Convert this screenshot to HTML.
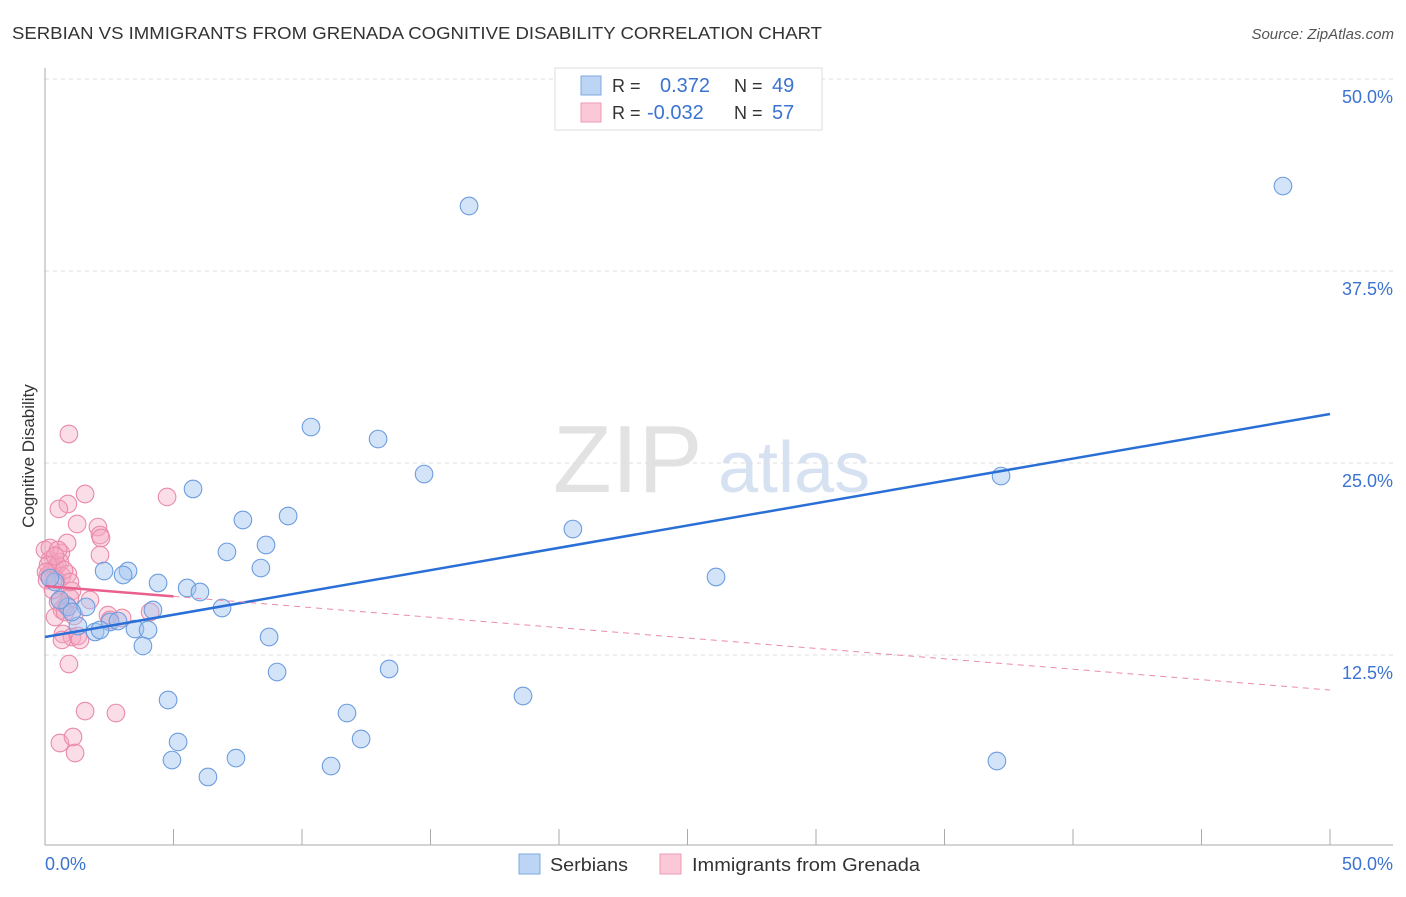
<!DOCTYPE html>
<html><head><meta charset="utf-8"><style>
body{margin:0;background:#fff;font-family:"Liberation Sans",sans-serif}
svg text{font-family:"Liberation Sans",sans-serif}
</style></head><body>
<svg id="chart" width="1406" height="892" xmlns="http://www.w3.org/2000/svg">
<text x="12" y="39" font-size="17.5" fill="#333" textLength="810" lengthAdjust="spacingAndGlyphs">SERBIAN VS IMMIGRANTS FROM GRENADA COGNITIVE DISABILITY CORRELATION CHART</text>
<text x="1394" y="39" font-size="15" fill="#555" text-anchor="end" font-style="italic">Source: ZipAtlas.com</text>
<g>
<text x="553" y="492" font-size="96" fill="#e2e2e2" font-family="Liberation Serif,serif">ZIP</text>
<text x="718" y="492" font-size="72" fill="#d6e2f2">atlas</text>
</g>
<g id="grid"></g>
<g id="axes"></g>
<g id="marks"></g>
<text transform="translate(34,456) rotate(-90)" font-size="17" fill="#333" text-anchor="middle">Cognitive Disability</text>
<g>
<rect x="555" y="68" width="267" height="62" fill="#fff" stroke="#ddd"/>
<rect x="581" y="76" width="20" height="19" fill="#bcd5f5" stroke="#7fa8e0"/>
<rect x="581" y="103" width="20" height="19" fill="#fbc8d8" stroke="#ec9ab6"/>
<text x="612" y="92" font-size="18" fill="#333">R = </text>
<text x="660" y="92" font-size="20" fill="#3b73d0">0.372</text>
<text x="734" y="92" font-size="18" fill="#333">N = </text>
<text x="772" y="92" font-size="20" fill="#3b73d0">49</text>
<text x="612" y="119" font-size="18" fill="#333">R = </text>
<text x="647" y="119" font-size="20" fill="#3b73d0">-0.032</text>
<text x="734" y="119" font-size="18" fill="#333">N = </text>
<text x="772" y="119" font-size="20" fill="#3b73d0">57</text>
</g>
<g>
<rect x="519" y="854" width="21" height="20" fill="#bcd5f5" stroke="#7fa8e0"/>
<text x="550" y="871" font-size="18" fill="#333" textLength="78" lengthAdjust="spacingAndGlyphs">Serbians</text>
<rect x="660" y="854" width="21" height="20" fill="#fbc8d8" stroke="#ec9ab6"/>
<text x="692" y="871" font-size="18" fill="#333" textLength="228" lengthAdjust="spacingAndGlyphs">Immigrants from Grenada</text>
</g>
</svg>
<script>
const blueX=[48.17,16.50,10.35,12.96,14.75,37.20,5.76,20.54,7.70,9.46,8.60,7.08,2.30,3.23,3.04,8.40,4.40,5.53,6.03,26.11,0.39,1.60,0.89,4.20,6.89,2.53,2.84,1.28,1.95,3.50,4.01,8.72,3.81,9.03,13.39,4.79,18.60,11.75,12.30,5.18,4.94,7.43,6.34,11.13,37.04,0.19,1.05,2.14,0.58];
const blueY=[43.03,41.73,27.34,26.56,24.28,24.15,23.31,20.70,21.29,21.55,19.66,19.21,17.97,17.97,17.71,18.16,17.19,16.86,16.60,17.58,17.25,15.63,15.63,15.43,15.56,14.65,14.71,14.39,14.00,14.19,14.13,13.67,13.09,11.39,11.59,9.57,9.83,8.72,7.03,6.84,5.66,5.79,4.56,5.27,5.60,17.51,15.30,14.13,16.08];
const pinkX=[0.93,1.56,0.89,0.54,4.75,1.25,2.06,2.14,2.18,0.62,0.86,0.19,0.39,0.12,0.27,0.47,0.58,0.66,0,0.89,2.14,1.05,0.58,0.82,0.66,0.51,0.97,1.13,0.39,2.45,3.00,4.09,2.53,0.70,1.05,1.28,0.66,0.93,1.56,2.76,0.58,1.09,1.17,0.12,0.04,0.31,0.78,0.43,0.74,0.97,0.19,0.51,1.36,1.75,0.39,0.08];
const pinkY=[26.89,22.98,22.33,22.01,22.79,21.03,20.83,20.31,20.12,19.14,19.79,18.68,18.16,17.71,18.03,18.36,18.55,17.64,19.34,17.77,19.01,16.67,16.08,15.76,15.43,15.95,16.21,15.04,14.97,15.10,14.91,15.30,14.78,13.87,13.67,13.74,13.48,11.91,8.85,8.72,6.77,7.16,6.12,18.36,17.90,16.73,15.30,17.38,18.03,17.25,19.47,19.34,13.48,16.08,18.94,17.38];
const blueTrend=[13.67,28.19];
const pinkTrend=[16.99,10.22];
const yTicks=[12.5,25,37.5,50];
const yTickLabels=["12.5%","25.0%","37.5%","50.0%"];
const NS="http://www.w3.org/2000/svg";
const sx=v=>45+v*25.7, sy=v=>847-v*15.36;
function mk(tag,attrs,parent){const e=document.createElementNS(NS,tag);for(const k in attrs)e.setAttribute(k,attrs[k]);parent.appendChild(e);return e;}
const grid=document.getElementById('grid'),axes=document.getElementById('axes'),marks=document.getElementById('marks');
yTicks.forEach((t,i)=>{
 const l=mk('line',{x1:45,x2:1393,y1:sy(t),y2:sy(t),stroke:'#ddd','stroke-dasharray':'4,4'},grid);
 
 
 const tx=mk('text',{x:1393,y:sy(t)+24,'font-size':18,fill:'#3b73d0','text-anchor':'end'},axes);
 tx.textContent=yTickLabels[i];
 
 
});
mk('line',{x1:45,x2:45,y1:68,y2:845,stroke:'#aaa'},axes);
mk('line',{x1:45,x2:1393,y1:845,y2:845,stroke:'#aaa'},axes);
for(let i=1;i<=10;i++){mk('line',{x1:sx(i*5),x2:sx(i*5),y1:829,y2:845,stroke:'#aaa'},axes);}
const xl=mk('text',{x:45,y:870,'font-size':18,fill:'#3b73d0'},axes);xl.textContent='0.0%';


const xr=mk('text',{x:1393,y:870,'font-size':18,fill:'#3b73d0','text-anchor':'end'},axes);xr.textContent='50.0%';


pinkX.forEach((x,i)=>{const c=mk('circle',{cx:sx(x),cy:sy(pinkY[i]),r:8.8,fill:'rgba(244,165,192,0.38)',stroke:'#e98aab','stroke-width':1.1},marks);
 
 });
blueX.forEach((x,i)=>{const c=mk('circle',{cx:sx(x),cy:sy(blueY[i]),r:8.8,fill:'rgba(160,196,240,0.45)',stroke:'#6d9de0','stroke-width':1.1},marks);
 
 });
const bt=mk('line',{x1:sx(0),y1:sy(blueTrend[0]),x2:sx(50),y2:sy(blueTrend[1]),stroke:'#2a6fd6','stroke-width':2.5},marks);


const pv=x=>pinkTrend[0]+(pinkTrend[1]-pinkTrend[0])*x/50;
const pd=mk('line',{x1:sx(5),y1:sy(pv(5)),x2:sx(50),y2:sy(pinkTrend[1]),stroke:'#ec8aab','stroke-width':1,'stroke-dasharray':'6,5'},marks);


const ps=mk('line',{x1:sx(0),y1:sy(pinkTrend[0]),x2:sx(5),y2:sy(pv(5)),stroke:'#e9608d','stroke-width':2.5},marks);


</script>
</body></html>
